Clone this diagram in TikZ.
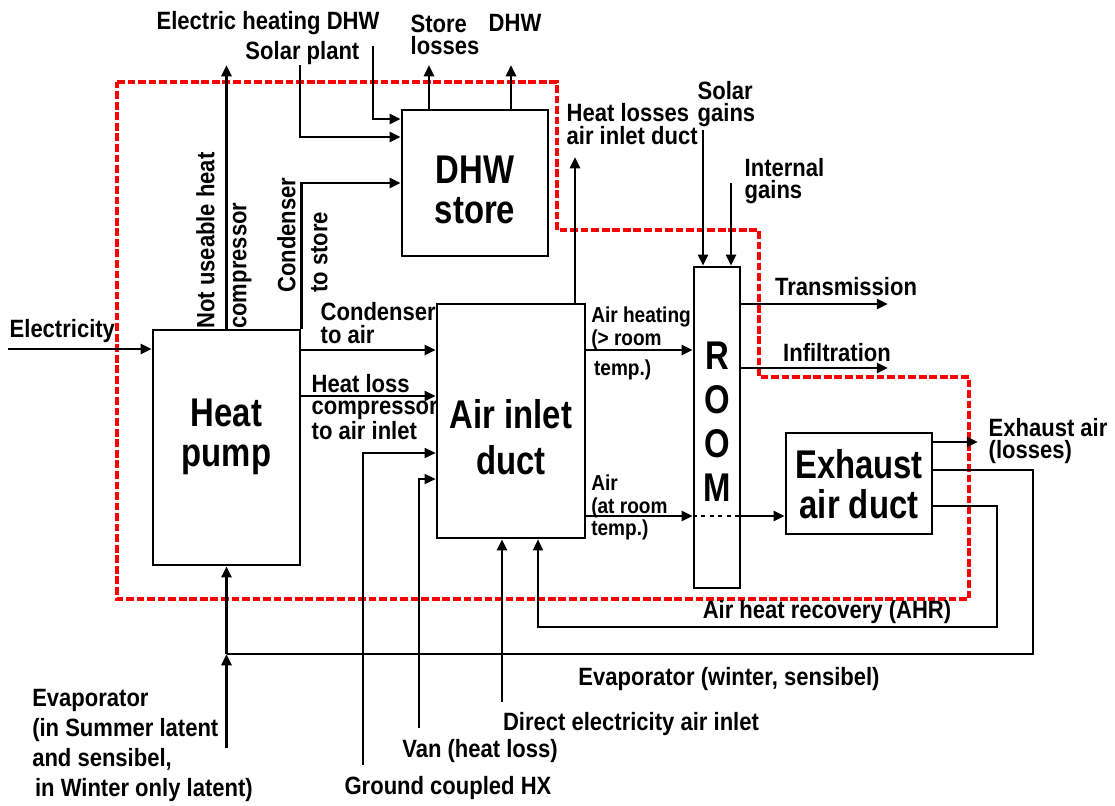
\documentclass[tikz,border=0pt]{standalone}
\usepackage{fontspec}
\setmainfont{Liberation Sans}[FakeStretch=0.88]
\newfontfamily\bigfont{Liberation Sans}[FakeStretch=0.82]
\usetikzlibrary{arrows.meta}

% box text, shifted by #1, lines #2
\newcommand{\boxtext}[2]{\raisebox{#1}[0pt][0pt]{\begin{tabular}{@{}c@{}}#2\end{tabular}}}

\begin{document}
\begin{tikzpicture}[
    x=0.025cm, y=-0.025cm,
    every node/.style={font=\fontsize{17.8}{16}\selectfont\bfseries, inner sep=1pt},
    box/.style={draw, line width=1.7pt, font=\bigfont\fontsize{28.5}{28.5}\selectfont\bfseries},
    lbl/.style={align=left},
    small/.style={align=left, anchor=north west, inner sep=0pt, font=\fontsize{15.4}{16}\selectfont\bfseries},
    rot/.style={rotate=90, anchor=north west, inner sep=0pt, align=left, font=\fontsize{17.8}{22.8}\selectfont\bfseries},
    arrow/.style={-{Triangle[length=8pt, width=7pt]}, line width=2.1pt},
    thin arrow/.style={arrow, line width=1.6pt},
    pipe/.style={line width=1.6pt},
    boundary/.style={red, line width=2.4pt, dash pattern=on 5.5pt off 2pt}
]
    \useasboundingbox (0,0) rectangle (1115,805);

    % System boundary
    \draw[boundary] (117,82) -- (557,82) -- (557,230) -- (759,230) -- (759,377)
        -- (969,377) -- (969,599) -- (117,599) -- cycle;

    % Components
    \node[box, minimum width=3.675cm, minimum height=5.875cm] (hp) at (226.5,447.5)
        {\boxtext{0cm}{Heat\\pump}};
    \node[box, minimum width=3.65cm, minimum height=3.65cm] (dhw) at (475,183)
        {\boxtext{-0.52cm}{DHW\\store}};
    \node[box, minimum width=3.7cm, minimum height=5.85cm, font=\bigfont\fontsize{28.5}{32.7}\selectfont\bfseries] (air) at (511,421)
        {\boxtext{-0.74cm}{Air inlet\\duct}};
    \node[box, minimum width=1.15cm, minimum height=8.025cm, font=\bigfont\fontsize{28.5}{31.3}\selectfont\bfseries] (room) at (717,427.5)
        {\boxtext{-0.19cm}{R\\O\\O\\M}};
    \node[box, minimum width=3.65cm, minimum height=2.525cm, font=\bigfont\fontsize{28.5}{25.6}\selectfont\bfseries] (exh) at (859,483.5)
        {\boxtext{-0.36cm}{Exhaust\\air duct}};

    % Free ends
    \coordinate (elin) at (8,349);
    \coordinate (nuh) at (226.5,65);
    \coordinate (solp) at (300,65);
    \coordinate (ehd) at (373,46);
    \coordinate (stl) at (429,65);
    \coordinate (dhwo) at (511,65);
    \coordinate (hla) at (575,157);
    \coordinate (sg) at (703,130);
    \coordinate (ig) at (731,183);
    \coordinate (tr) at (888,304);
    \coordinate (inf) at (888,368);
    \coordinate (exo) at (978,442);
    \coordinate (ahr) at (997,627);
    \coordinate (evr) at (1033,654);
    \coordinate (evj) at (226.5,654);
    \coordinate (evin) at (226.5,748);
    \coordinate (gch) at (363,765);
    \coordinate (van) at (419,728);
    \coordinate (dea) at (502,702);

    % Heat pump
    \draw[arrow] (elin) -- (elin -| hp.west);
    \draw[arrow] (hp.north) -- (nuh);
    \draw[arrow] (hp.north east) |- (dhw.west);
    \draw[arrow] (hp.east |- 0,350) -- (air.west |- 0,350);
    \draw[arrow] (hp.east |- 0,396) -- (air.west |- 0,396);
    \draw[arrow] (evin) -- (evj);
    \draw[arrow] (evj) -- (hp.south);

    % DHW store
    \draw[arrow] (solp) |- (dhw.west |- 0,137);
    \draw[arrow] (ehd) |- (dhw.west |- 0,119);
    \draw[arrow] (stl |- dhw.north) -- (stl);
    \draw[arrow] (dhwo |- dhw.north) -- (dhwo);

    % Air inlet duct
    \draw[thin arrow] (gch) |- (air.west |- 0,453);
    \draw[thin arrow] (van) |- (air.west |- 0,479);
    \draw[arrow] (dea) -- (dea |- air.south);
    \draw[arrow] (hla |- air.north) -- (hla);
    \draw[arrow] (air.east |- 0,350) -- (room.west |- 0,350);
    \draw[arrow] (air.east |- 0,516) -- (room.west |- 0,516);
    \draw[pipe, dashed] (room.west |- 0,516) -- (room.east |- 0,516);
    \draw[arrow] (room.east |- 0,516) -- (exh.west |- 0,516);

    % Room
    \draw[arrow] (sg) -- (sg |- room.north);
    \draw[arrow] (ig) -- (ig |- room.north);
    \draw[arrow] (room.east |- tr) -- (tr);
    \draw[arrow] (room.east |- inf) -- (inf);

    % Exhaust air duct
    \draw[arrow] (exh.east |- exo) -- (exo);
    \draw[thin arrow] (exh.east |- 0,506) -| (ahr) -| (air.south -| 538,0);
    \draw[pipe] (exh.east |- 0,470) -| (evr) -- (evj);

    % Labels
    \node[anchor=west] (lelec) at (8,331) {Electricity};
    \node[rot] (lnuh) at (196,329) {Not useable heat\\compressor};
    \node[rot] (lcts) at (277,293) {Condenser\\to store};
    \node (lehd) at (268,23) {Electric heating DHW};
    \node[anchor=east] (lsolp) at (361,53) {Solar plant};
    \node[lbl, anchor=west] (lstl) at (409,35) {Store\\losses};
    \node (ldhwo) at (515,23) {DHW};
    \node[lbl, anchor=west] (lcta) at (319,323) {Condenser\\to air};
    \node[lbl, anchor=west] (lhlc) at (310,407) {Heat loss\\compressor\\to air inlet};
    \node[lbl, anchor=west] (lhla) at (565,124) {Heat losses\\air inlet duct};
    \node[small] (lahe) at (591,307) {Air heating\\(> room\\[5pt]\hspace*{2pt}temp.)};
    \node[small] (lart) at (591,475) {Air\\(at room\\temp.)};
    \node[lbl, anchor=west] (lsg) at (696,104) {Solar\\gains};
    \node[lbl, anchor=west] (lig) at (743,181) {Internal\\gains};
    \node (ltr) at (846,287) {Transmission};
    \node (linf) at (837,353) {Infiltration};
    \node[lbl, anchor=west] (lexo) at (987,441) {Exhaust air\\(losses)};
    \node (lahr) at (827,612) {Air heat recovery (AHR)};
    \node (levw) at (729,679) {Evaporator (winter, sensibel)};
    \node (ldea) at (631,724) {Direct electricity air inlet};
    \node (lvan) at (480,751) {Van (heat loss)};
    \node (lgch) at (448,788) {Ground coupled HX};
    \node[lbl, anchor=north west, inner sep=0pt, font=\fontsize{17.8}{21.3}\selectfont\bfseries] (levin) at (32,689)
        {Evaporator\\(in Summer latent\\and sensibel,\\\hspace*{2pt}in Winter only latent)};

\end{tikzpicture}
\end{document}
